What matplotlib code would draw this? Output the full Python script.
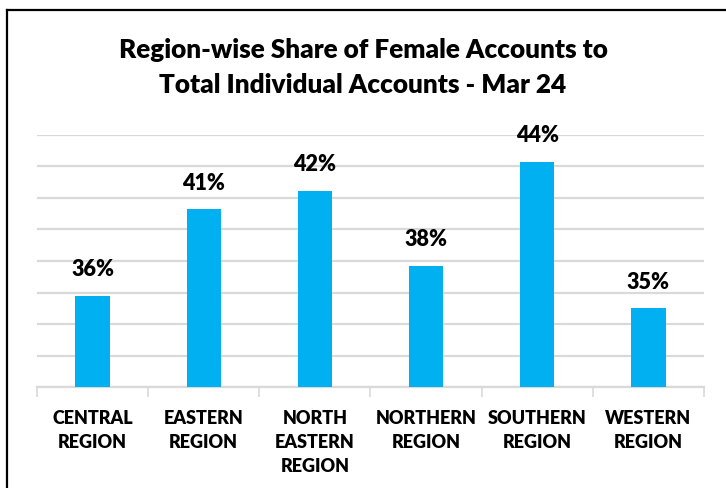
import matplotlib
matplotlib.use("Agg")
import matplotlib.pyplot as plt
from matplotlib.lines import Line2D

categories = ["CENTRAL\nREGION", "EASTERN\nREGION", "NORTH\nEASTERN\nREGION",
              "NORTHERN\nREGION", "SOUTHERN\nREGION", "WESTERN\nREGION"]
values = [35.8, 41.3, 42.45, 37.7, 44.3, 35.0]
labels = ["36%", "41%", "42%", "38%", "44%", "35%"]
title = "Region-wise Share of Female Accounts to\nTotal Individual Accounts - Mar 24"

FONT = "Lato"
WEIGHT = "heavy"
BAR = "#00b0f0"
GRID = "#d9d9d9"

fig = plt.figure(figsize=(7.26, 4.88), dpi=100)
ax = fig.add_axes([37/726, 1-387.3/488, (704-37)/726, (387.3-134.7)/488])

x = list(range(len(categories)))
ax.bar(x, [v - 30 for v in values], bottom=30, width=0.31, color=BAR, zorder=3)
ax.set_xlim(-0.5, len(categories) - 0.5)
ax.set_ylim(30, 46)
ax.set_yticks(range(30, 47, 2))
ax.yaxis.grid(True, color=GRID, linewidth=1.6, zorder=0)
ax.tick_params(axis="y", left=False, labelleft=False)
for s in ["left", "right", "top"]:
    ax.spines[s].set_visible(False)
ax.spines["bottom"].set_color(GRID)
ax.spines["bottom"].set_linewidth(1.6)

ax.set_xticks([i - 0.5 for i in range(len(categories) + 1)], minor=False)
ax.set_xticklabels([])
ax.tick_params(axis="x", which="major", length=7, width=1.2, color=GRID)
ax.set_xticks(x, minor=True)
ax.set_xticklabels(categories, minor=True, fontfamily=FONT, fontweight=WEIGHT,
                   fontsize=13, linespacing=1.52)
ax.tick_params(axis="x", which="minor", length=0, pad=16)

for xi, v, lab in zip(x, values, labels):
    ax.annotate(lab, (xi, v), xytext=(0, 11), textcoords="offset points",
                ha="center", va="bottom", fontfamily=FONT, fontweight=WEIGHT,
                fontsize=15.5, color="black")

fig.text(363/726, 1-67/488, title, ha="center", va="center", fontfamily=FONT,
         fontweight=WEIGHT, fontsize=18.8, linespacing=1.55)

fig.add_artist(Line2D([7/726, 7/726], [0, 1-10/488], transform=fig.transFigure,
                      color="black", linewidth=1.6))
fig.add_artist(Line2D([7/726, 1], [1-10/488, 1-10/488], transform=fig.transFigure,
                      color="black", linewidth=1.6))

fig.savefig("out.png", dpi=100)
